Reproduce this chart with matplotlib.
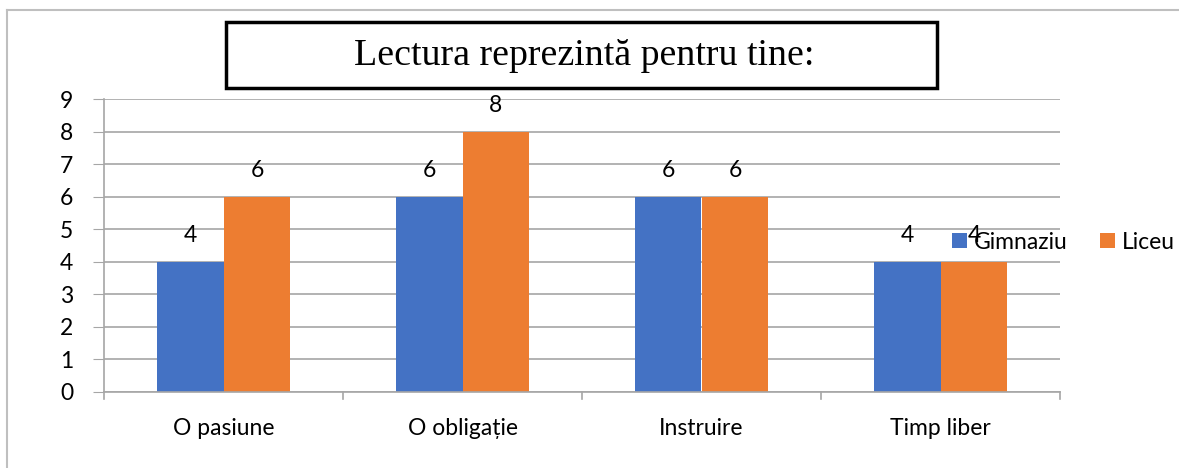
import matplotlib
matplotlib.use("Agg")
import matplotlib.pyplot as plt
from matplotlib.lines import Line2D
from matplotlib.patches import Rectangle
import numpy as np

categories = ["O pasiune", "O obligație", "Instruire", "Timp liber"]
gimnaziu = [4, 6, 6, 4]
liceu = [6, 8, 6, 4]
series_names = ["Gimnaziu", "Liceu"]
yticks = list(range(0, 10))
title = "Lectura reprezintă pentru tine:"

W, H = 1179, 468
fig = plt.figure(figsize=(W / 100, H / 100), dpi=100)
font = ["Lato", "DejaVu Sans"]
fs = 16.5

ax = fig.add_axes([104 / W, 1 - 392 / H, (1060 - 104) / W, (392 - 99) / H])
x = np.arange(len(categories))
bw = 0.28
b1 = ax.bar(x - bw / 2, gimnaziu, bw, color="#4472C4", label=series_names[0], zorder=3)
b2 = ax.bar(x + bw / 2, liceu, bw, color="#ED7D31", label=series_names[1], zorder=3)

for bars in (b1, b2):
    for r in bars:
        ax.annotate(f"{int(r.get_height())}", (r.get_x() + r.get_width() / 2, r.get_height()),
                    xytext=(0, 19), textcoords="offset points", ha="center", va="center",
                    fontsize=fs, family=font, color="#000000")

ax.set_xlim(-0.5, len(categories) - 0.5)
ax.set_ylim(0, 9)
ax.set_yticks(yticks)
ax.set_yticklabels([str(t) for t in yticks], family=font, fontsize=fs)
ax.set_xticks(x)
ax.set_xticklabels(categories, family=font, fontsize=fs)
ax.tick_params(axis="x", length=0, pad=19)
ax.tick_params(axis="y", length=8, color="#A6A6A6", pad=14)
for t in np.arange(-0.5, len(categories), 1.0):
    ax.plot([t, t], [0, -0.22], color="#A6A6A6", lw=1.2, clip_on=False, zorder=4)
ax.grid(axis="y", color="#A6A6A6", lw=1.2, zorder=0)
for s in ["top", "right"]:
    ax.spines[s].set_visible(False)
ax.spines["left"].set_color("#A6A6A6")
ax.spines["bottom"].set_color("#A6A6A6")
ax.spines["left"].set_linewidth(1.2)
ax.spines["bottom"].set_linewidth(1.2)
ax.spines["bottom"].set_zorder(5)

leg = fig.legend(handles=[b1, b2], labels=series_names, loc="center left",
                 bbox_to_anchor=(952 / W, 1 - 242 / H), ncol=2, frameon=False,
                 prop={"family": font, "size": fs}, handlelength=0.65, handleheight=0.65,
                 handletextpad=0.3, columnspacing=1.4, borderpad=0, borderaxespad=0)

# title box
fig.patches.append(Rectangle((226 / W, 1 - 88 / H), (937 - 226) / W, (88 - 22) / H,
                             transform=fig.transFigure, fill=False, ec="black", lw=2.5))
fig.text(584 / W, 1 - 56 / H, title, ha="center", va="center", fontsize=27.3,
         family=["Liberation Serif", "DejaVu Serif"])

# outer border
fig.add_artist(Line2D([7 / W, 1], [1 - 10 / H, 1 - 10 / H], transform=fig.transFigure,
                      color="#BFBFBF", lw=1.5))
fig.add_artist(Line2D([7 / W, 7 / W], [0, 1 - 10 / H], transform=fig.transFigure,
                      color="#BFBFBF", lw=1.5))

fig.savefig("out.png", dpi=100)
